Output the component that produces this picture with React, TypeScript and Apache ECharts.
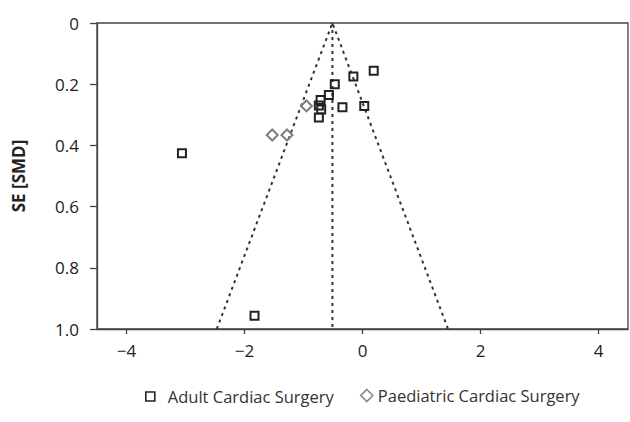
import React, { useEffect, useRef } from "react";
import * as echarts from "echarts";

// Study estimates: [SMD, SE]
const adultSMD = [0.19, -0.155, -0.47, -0.57, -0.71, -0.74, -0.70, -0.34, 0.03, -0.74, -3.06, -1.83];
const adultSE = [0.156, 0.175, 0.2, 0.235, 0.252, 0.27, 0.283, 0.275, 0.271, 0.309, 0.426, 0.957];
const paedSMD = [-0.95, -1.53, -1.28];
const paedSE = [0.271, 0.366, 0.366];

const pooledSMD = -0.51;
const seMax = 1.0;
const xTicks = [-4, -2, 0, 2, 4];
const seriesNames = ["Adult Cardiac Surgery", "Paediatric Cardiac Surgery"];

const FONT = "Open Sans";

export default function App() {
  const ref = useRef<HTMLDivElement>(null);
  useEffect(() => {
    if (!ref.current) return;
    const chart = echarts.init(ref.current, null, { renderer: "svg" });
    const adult = adultSMD.map((x, i) => [x, adultSE[i]]);
    const paed = paedSMD.map((x, i) => [x, paedSE[i]]);
    const funnel = [
      [pooledSMD - 1.96 * seMax, seMax],
      [pooledSMD, 0],
      [pooledSMD + 1.96 * seMax, seMax],
    ];
    const centre = [
      [pooledSMD, 0],
      [pooledSMD, seMax],
    ];
    const legendText = { fontFamily: FONT, fontSize: 16.5, color: "#333" };
    chart.setOption({
      animation: false,
      backgroundColor: "#fff",
      textStyle: { fontFamily: FONT },
      grid: {
        left: 97,
        right: 2,
        top: 23,
        bottom: 93,
        show: true,
        borderColor: "#444",
        borderWidth: 1.3,
        backgroundColor: "transparent",
      },
      legend: [
        {
          left: 140,
          top: 383,
          itemWidth: 9,
          itemHeight: 9,
          textStyle: { ...legendText, padding: [0, 0, 0, 8] },
          data: [
            {
              name: seriesNames[0],
              icon: "rect",
              itemStyle: { color: "#fff", borderColor: "#222", borderWidth: 1.6 },
            },
          ],
        },
        {
          left: 355,
          top: 382,
          itemWidth: 12,
          itemHeight: 12,
          textStyle: { ...legendText, padding: [0, 0, 0, 0] },
          data: [
            {
              name: seriesNames[1],
              icon: "diamond",
              itemStyle: { color: "#fff", borderColor: "#888", borderWidth: 1.6 },
            },
          ],
        },
      ],
      xAxis: {
        type: "value",
        min: -4.5,
        max: 4.5,
        splitLine: { show: false },
        axisLine: { onZero: false, lineStyle: { color: "#444", width: 1.3 } },
        axisTick: { length: 5, customValues: xTicks, lineStyle: { color: "#444", width: 1.3 } },
        axisLabel: {
          customValues: xTicks,
          margin: 13,
          fontSize: 17,
          color: "#222",
          fontFamily: FONT,
          formatter: (v: number) => String(v).replace("-", "\u2212"),
        },
      },
      yAxis: {
        type: "value",
        inverse: true,
        min: 0,
        max: 1,
        interval: 0.2,
        name: "SE [SMD]",
        nameLocation: "middle",
        nameGap: 70,
        nameTextStyle: { fontSize: 17, fontWeight: "bold", color: "#222", fontFamily: FONT },
        splitLine: { show: false },
        axisLine: { onZero: false, lineStyle: { color: "#444", width: 1.3 } },
        axisTick: { length: 7, lineStyle: { color: "#444", width: 1.3 } },
        axisLabel: {
          margin: 18,
          fontSize: 17,
          color: "#222",
          fontFamily: FONT,
          formatter: (v: number) => (v === 0 ? "0" : v.toFixed(1)),
        },
      },
      series: [
        {
          type: "line",
          data: funnel,
          symbol: "none",
          silent: true,
          lineStyle: { color: "#333", width: 2, type: [3, 4] },
          z: 1,
        },
        {
          type: "line",
          data: centre,
          symbol: "none",
          silent: true,
          lineStyle: { color: "#333", width: 2, type: [3, 4] },
          z: 1,
        },
        {
          name: seriesNames[0],
          type: "scatter",
          data: adult,
          symbol: "rect",
          symbolSize: 8,
          itemStyle: { color: "rgba(0,0,0,0)", borderColor: "#222", borderWidth: 2, opacity: 1 },
          z: 3,
        },
        {
          name: seriesNames[1],
          type: "scatter",
          data: paed,
          symbol: "diamond",
          symbolSize: 11,
          itemStyle: { color: "rgba(0,0,0,0)", borderColor: "#808080", borderWidth: 2, opacity: 1 },
          z: 3,
        },
      ],
    });
    return () => chart.dispose();
  }, []);
  return (
    <div
      ref={ref}
      style={{ position: "fixed", left: 0, top: 0, width: 630, height: 422, background: "#fff" }}
    />
  );
}
